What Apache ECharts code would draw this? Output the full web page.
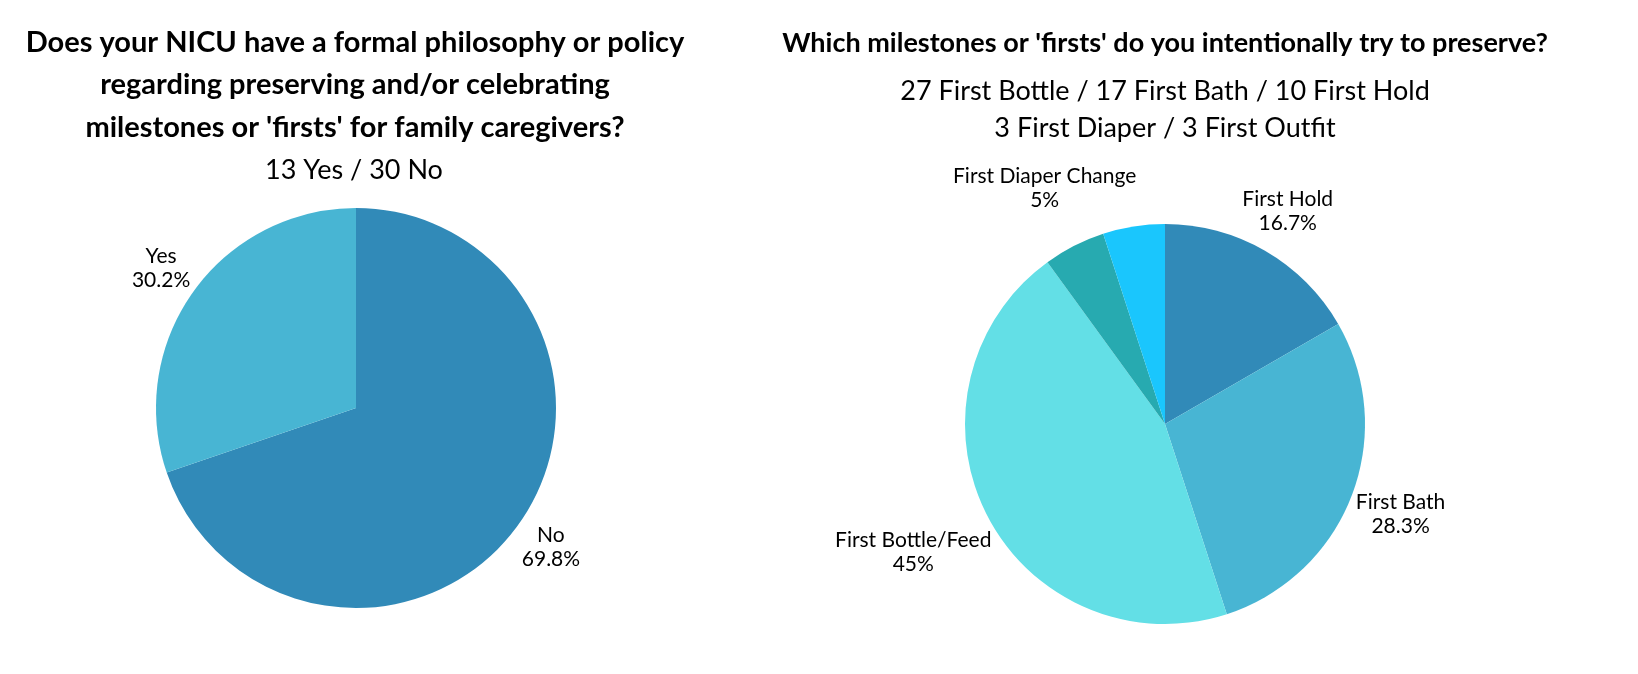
<!DOCTYPE html>
<html>
<head>
<meta charset="utf-8">
<script src="https://cdn.jsdelivr.net/npm/echarts@6/dist/echarts.min.js"></script>
<style>
    html, body { margin: 0; padding: 0; background: #fff; }
    #chart { width: 1638px; height: 674px; }
</style>
</head>
<body>
<div id="chart"></div>
<script>
// policy question
const policyNames = ['No', 'Yes'];
const policyValues = [30, 13];
const policyColors = ['#318ab8', '#48b5d3'];

// milestones question
const milestoneNames = ['First Hold', 'First Bath', 'First Bottle/Feed', 'First Diaper Change', 'First Outfit'];
const milestoneValues = [10, 17, 27, 3, 3];
const milestoneColors = ['#318ab8', '#48b5d3', '#63dfe6', '#27aab0', '#1ac6fd'];
const milestoneLabelShown = [true, true, true, true, false];

const PIE_RADIUS = 200;
const LABEL_GAP = 2;
const pieCenters = [[356, 408], [1165, 424]];
const pieValues = [policyValues, milestoneValues];
const FONT = 'Lato, "Open Sans", sans-serif';

// mid angle (radians, clockwise from top) of a slice
function midAngle(values, idx) {
    const total = values.reduce((a, b) => a + b, 0);
    let before = 0;
    for (let i = 0; i < idx; i++) before += values[i];
    return (before + values[idx] / 2) / total * Math.PI * 2;
}

// put each label box just outside the rim, centred text
function placeLabel(params) {
    const values = pieValues[params.seriesIndex];
    const c = pieCenters[params.seriesIndex];
    const a = midAngle(values, params.dataIndex);
    const ux = Math.sin(a);
    const uy = -Math.cos(a);
    const w = params.labelRect.width;
    const h = params.labelRect.height;
    const extent = Math.abs(ux) * w / 2 + Math.abs(uy) * h / 2;
    const d = PIE_RADIUS + LABEL_GAP + extent;
    return {
        x: c[0] + ux * d,
        y: c[1] + uy * d,
        align: 'center',
        verticalAlign: 'middle'
    };
}

function pctLabel(p) {
    return p.name + '\n' + (+p.percent.toFixed(1)) + '%';
}

const labelStyle = {
    show: true,
    position: 'outside',
    formatter: pctLabel,
    color: '#000',
    fontFamily: FONT,
    fontSize: 21,
    lineHeight: 24
};

const chart = echarts.init(document.getElementById('chart'));
const option = {
    animation: false,
    title: [
        {
            text: "Does your NICU have a formal philosophy or policy\nregarding preserving and/or celebrating\nmilestones or 'firsts' for family caregivers?",
            left: 355,
            top: 21,
            padding: 0,
            textAlign: 'center',
            textStyle: { fontFamily: FONT, fontSize: 29, fontWeight: 'bold', color: '#000', lineHeight: 42.5 }
        },
        {
            text: '13 Yes / 30 No',
            left: 354,
            top: 155,
            padding: 0,
            textAlign: 'center',
            textStyle: { fontFamily: FONT, fontSize: 27, fontWeight: 'normal', color: '#000', lineHeight: 30 }
        },
        {
            text: "Which milestones or 'firsts' do you intentionally try to preserve?",
            left: 1165,
            top: 22,
            padding: 0,
            textAlign: 'center',
            textStyle: { fontFamily: FONT, fontSize: 27, fontWeight: 'bold', color: '#000', lineHeight: 42 }
        },
        {
            text: '27 First Bottle / 17 First Bath / 10 First Hold\n3 First Diaper / 3 First Outfit',
            left: 1165,
            top: 73,
            padding: 0,
            textAlign: 'center',
            textStyle: { fontFamily: FONT, fontSize: 27, fontWeight: 'normal', color: '#000', lineHeight: 37 }
        }
    ],
    series: [
        {
            type: 'pie',
            center: pieCenters[0],
            radius: PIE_RADIUS,
            startAngle: 90,
            clockwise: true,
            avoidLabelOverlap: false,
            label: labelStyle,
            labelLine: { show: false },
            labelLayout: placeLabel,
            emphasis: { disabled: true },
            data: policyNames.map((n, i) => ({
                name: n,
                value: policyValues[i],
                itemStyle: { color: policyColors[i] }
            }))
        },
        {
            type: 'pie',
            center: pieCenters[1],
            radius: PIE_RADIUS,
            startAngle: 90,
            clockwise: true,
            avoidLabelOverlap: false,
            label: labelStyle,
            labelLine: { show: false },
            labelLayout: placeLabel,
            emphasis: { disabled: true },
            data: milestoneNames.map((n, i) => ({
                name: n,
                value: milestoneValues[i],
                itemStyle: { color: milestoneColors[i] },
                label: { show: milestoneLabelShown[i] }
            }))
        }
    ]
};
chart.setOption(option);
</script>
</body>
</html>
